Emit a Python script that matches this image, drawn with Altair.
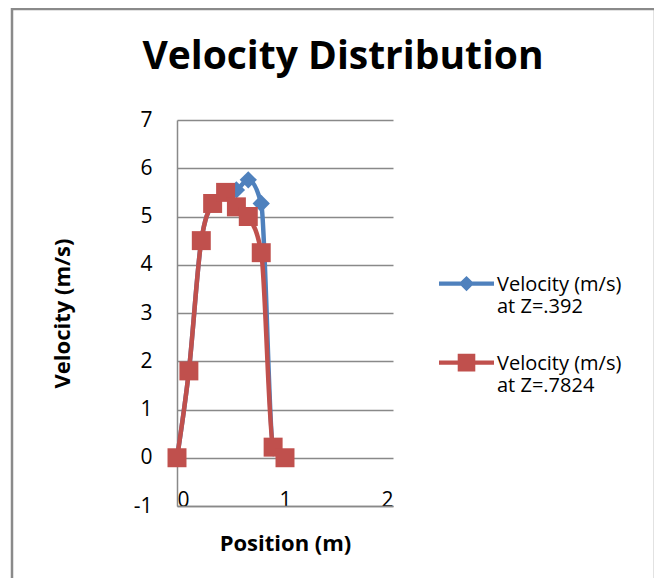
import altair as alt
import pandas as pd

positions = [0, 0.11, 0.225, 0.33, 0.45, 0.55, 0.66, 0.78, 0.89, 1.0]
vel_z392 = [0, 1.8, 4.5, 5.27, 5.5, 5.55, 5.76, 5.27, 0.2, 0]
vel_z7824 = [0, 1.8, 4.5, 5.27, 5.5, 5.2, 5.0, 4.25, 0.22, 0]
series_names = ["Velocity (m/s) at Z=.392", "Velocity (m/s) at Z=.7824"]
colors = ["#4F81BD", "#C0504D"]
shapes = ["diamond", "square"]
y_ticks = [-1, 0, 1, 2, 3, 4, 5, 6, 7]
x_ticks = [0, 1, 2]

rows = []
for s, vals in zip(series_names, [vel_z392, vel_z7824]):
    for i, (p, v) in enumerate(zip(positions, vals)):
        rows.append({"series": s, "pos": p, "vel": v, "idx": i})
df = pd.DataFrame(rows)

FONT = "Open Sans"
GRID = "#898989"
TICK_FS = 21
TITLE_FS = 22
LEGEND_FS = 20

# legend glyphs: line segment + marker (unit coords, shifted down to first label line)
DY = 0.33
def rect_path(x0, y0, x1, y1):
    return f"M{x0},{y0+DY}L{x1},{y0+DY}L{x1},{y1+DY}L{x0},{y1+DY}Z"
line_seg = rect_path(-1, -0.075, 1, 0.075)
diamond_glyph = line_seg + f"M0,{-0.28+DY}L0.28,{DY}L0,{0.28+DY}L-0.28,{DY}Z"
square_glyph = line_seg + rect_path(-0.32, -0.32, 0.32, 0.32)

x_enc = alt.X("pos:Q", scale=alt.Scale(domain=[0, 2], nice=False),
              axis=alt.Axis(values=x_ticks, title="Position (m)", grid=False, ticks=False,
                            labelExpr="'' + datum.value",
                            domainColor=GRID, domainWidth=1.5, labelFontSize=TICK_FS,
                            labelBaseline="middle", labelPadding=-6, labelColor="#000",
                            titleFontSize=TITLE_FS, titleFontWeight="bold", titleColor="#000",
                            titleY=44, titleBaseline="alphabetic"))
y_enc = alt.Y("vel:Q", scale=alt.Scale(domain=[-1, 7], nice=False),
              axis=alt.Axis(values=y_ticks, title="Velocity (m/s)", grid=True, ticks=False,
                            labelExpr="'' + datum.value",
                            gridColor=GRID, gridWidth=1.5, domainColor=GRID, domainWidth=1.5,
                            labelFontSize=TICK_FS, labelPadding=25, labelColor="#000",
                            titleFontSize=TITLE_FS, titleFontWeight="bold", titleColor="#000",
                            titleX=-115, titleBaseline="middle"))

legend = alt.Legend(
    title=None, orient="none", legendX=262, legendY=127,
    labelFontSize=LEGEND_FS, labelColor="#000", labelFont=FONT, labelBaseline="top",
    labelExpr="[slice(datum.label, 0, 14), slice(datum.label, 15)]",
    labelLimit=300, labelOffset=3, symbolSize=3025, symbolOpacity=1,
    symbolStrokeWidth=0,
)

layers = []
for k, s in enumerate(series_names):
    base = alt.Chart(df).transform_filter(alt.datum.series == s)
    line = base.mark_line(strokeWidth=4.5, interpolate="monotone", color=colors[k]).encode(
        x=x_enc, y=y_enc, order="idx:Q",
    )
    pts = base.mark_point(filled=True, opacity=1, size=300 if k == 0 else 360,
                          shape=shapes[k], color=colors[k]).encode(
        x="pos:Q", y="vel:Q",
    )
    layers += [line, pts]

legend_layer = alt.Chart(df).mark_point(filled=True, opacity=0).encode(
    x="pos:Q", y="vel:Q",
    color=alt.Color("series:N", scale=alt.Scale(domain=series_names, range=colors),
                    legend=legend),
    shape=alt.Shape("series:N", scale=alt.Scale(domain=series_names,
                                                range=[diamond_glyph, square_glyph]),
                    legend=legend),
)

frame = alt.Chart(pd.DataFrame({"a": [0]})).mark_rect(
    fill=None, stroke="#8a8a8a", strokeWidth=2.5, clip=False
).encode(x=alt.value(-165), x2=alt.value(478), y=alt.value(-111), y2=alt.value(480))

chart = alt.layer(frame, *layers, legend_layer).properties(
    width=216, height=386,
    title=alt.TitleParams("Velocity Distribution", fontSize=39, font=FONT, fontWeight="bold",
                          color="#000", anchor="middle", frame="group", dx=58, dy=100,
                          offset=0, baseline="alphabetic"),
    autosize=alt.AutoSizeParams(type="none"),
    padding={"left": 169, "top": 112, "right": 261, "bottom": 72},
).configure(font=FONT).configure_view(stroke=None).configure_axis(
    labelFont=FONT, titleFont=FONT
).configure_legend(padding=0, rowPadding=9)

chart.save("out.html", embed_options={"renderer": "svg", "actions": False})
